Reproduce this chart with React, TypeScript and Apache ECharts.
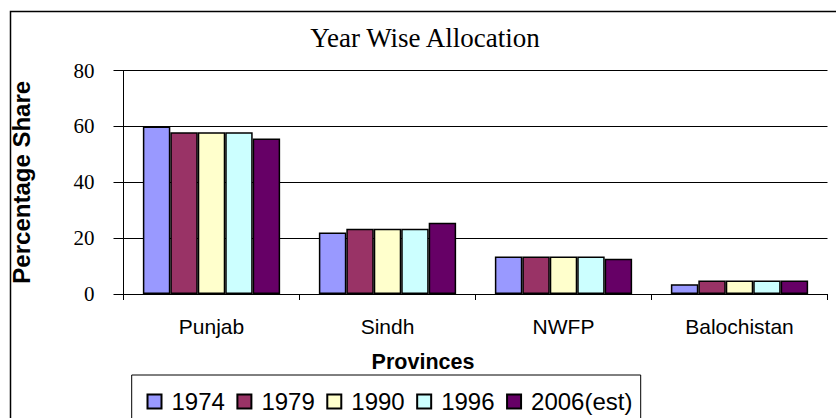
import React, { useEffect, useRef } from "react";
import * as echarts from "echarts";

const categories = ["Punjab", "Sindh", "NWFP", "Balochistan"];
const seriesNames = ["1974", "1979", "1990", "1996", "2006(est)"];
const v1974 = [60, 22, 13.4, 3.5];
const v1979 = [57.9, 23.4, 13.4, 4.8];
const v1990 = [57.9, 23.4, 13.4, 4.8];
const v1996 = [57.9, 23.4, 13.4, 4.8];
const v2006 = [55.7, 25.5, 12.6, 4.8];
const colors = ["#9999FF", "#993366", "#FFFFCC", "#CCFFFF", "#660066"];
const yTicks = { min: 0, max: 80, interval: 20 };

export default function App() {
  const ref = useRef<HTMLDivElement>(null);
  useEffect(() => {
    if (!ref.current) return;
    const chart = echarts.init(ref.current, null, { renderer: "svg" });
    const values = [v1974, v1979, v1990, v1996, v2006];
    const sans = "Liberation Sans, Arial, sans-serif";
    const serif = "Times New Roman, Liberation Serif, serif";
    chart.setOption({
      animation: false,
      backgroundColor: "#fff",
      grid: { left: 123.5, right: 8.5, top: 70.5, bottom: 124, containLabel: false },
      legend: {
        left: 141.5,
        top: 384.5,
        itemWidth: 14,
        itemHeight: 14,
        itemGap: 11.5,
        icon: "rect",
        data: seriesNames,
        textStyle: { fontFamily: sans, fontSize: 24, color: "#000", padding: [0, 0, 0, 5] },
      },
      xAxis: {
        type: "category",
        data: categories,
        axisLine: { lineStyle: { color: "#000", width: 1 } },
        axisTick: { show: true, length: 6, alignWithLabel: false, lineStyle: { color: "#000" } },
        axisLabel: { fontFamily: sans, fontSize: 21, color: "#000", margin: 22 },
      },
      yAxis: {
        type: "value",
        min: yTicks.min,
        max: yTicks.max,
        interval: yTicks.interval,
        name: "Percentage Share",
        nameLocation: "middle",
        nameGap: 90,
        nameTextStyle: { fontFamily: sans, fontSize: 24, fontWeight: "bold", color: "#000" },
        axisLine: { show: true, lineStyle: { color: "#000", width: 1 } },
        axisTick: { show: true, length: 10, inside: false, lineStyle: { color: "#000" } },
        axisLabel: {
          fontFamily: serif,
          fontWeight: "normal",
          fontSize: 21,
          color: "#000",
          margin: 29,
          padding: [6, 0, 0, 0],
        },
        splitLine: { show: true, lineStyle: { color: "#000", width: 1 } },
      },
      series: seriesNames.map((name, i) => ({
        name,
        type: "bar",
        data: values[i],
        barGap: "0%",
        barCategoryGap: "22%",
        itemStyle: { color: colors[i], borderColor: "#000", borderWidth: 1.5 },
      })),
      graphic: [
        {
          type: "rect",
          left: 8,
          top: 9,
          shape: { x: 0, y: 0, width: 840, height: 430 },
          style: { fill: "none", stroke: "#000", lineWidth: 1.5 },
          silent: true,
        },
        {
          type: "rect",
          shape: { x: 131.7, y: 375, width: 509, height: 60 },
          style: { fill: "none", stroke: "#000", lineWidth: 1 },
          silent: true,
        },
        {
          type: "text",
          x: 425,
          y: 38,
          style: {
            text: "Year Wise Allocation",
            fontFamily: serif,
            fontSize: 27,
            fill: "#000",
            align: "center",
            verticalAlign: "middle",
          },
        },
        {
          type: "text",
          x: 423,
          y: 362,
          style: {
            text: "Provinces",
            fontFamily: sans,
            fontSize: 21.5,
            fontWeight: "bold",
            fill: "#000",
            align: "center",
            verticalAlign: "middle",
          },
        },
      ],
    });
    return () => chart.dispose();
  }, []);
  return (
    <div
      ref={ref}
      style={{ position: "fixed", left: 0, top: 0, width: 836, height: 418 }}
    />
  );
}
